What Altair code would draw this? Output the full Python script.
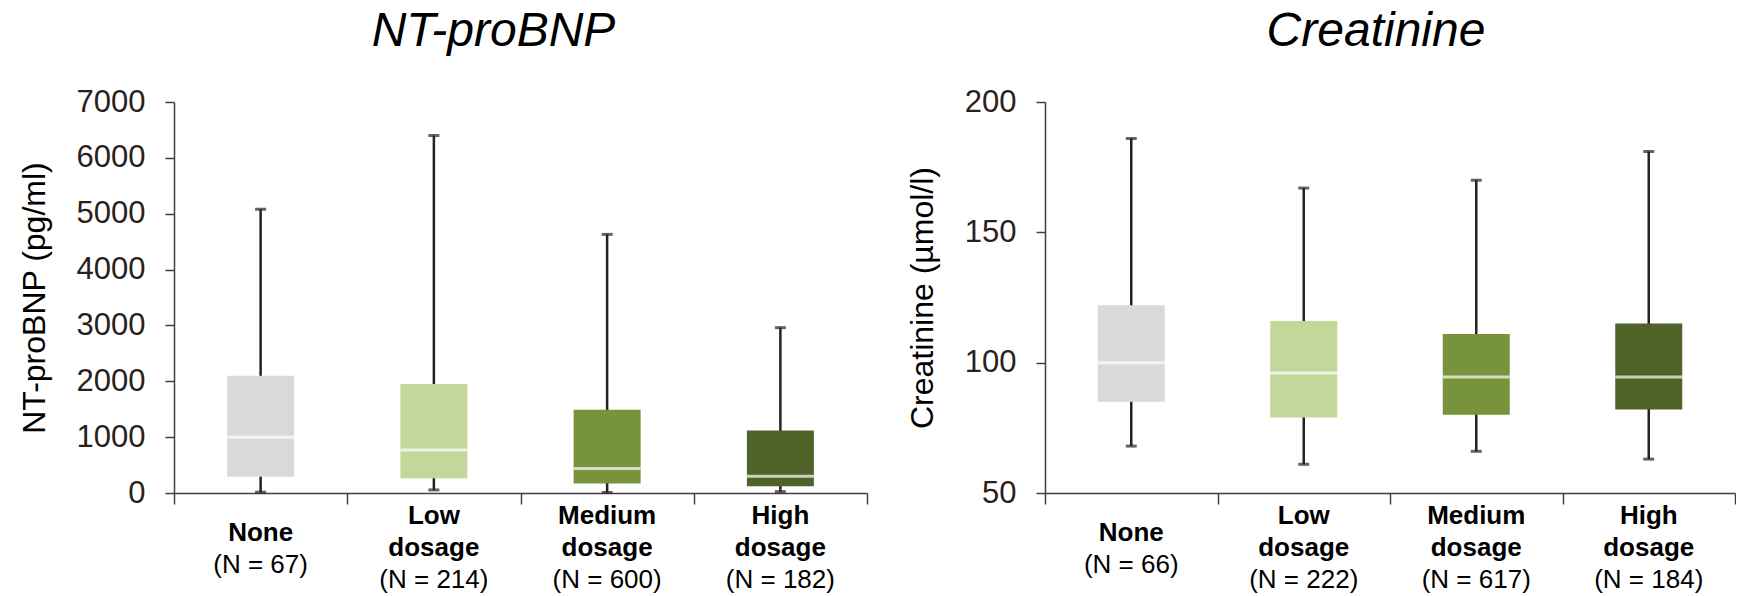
import altair as alt
import pandas as pd

# Treatment groups and their box colours
groups = ["None", "Low dosage", "Medium dosage", "High dosage"]
group_heads = ["None", "Low\ndosage", "Medium\ndosage", "High\ndosage"]
box_colors = ["#d9d9d9", "#c4d79b", "#77933c", "#4f6228"]

# NT-proBNP (pg/ml): whisker ends, quartiles and medians per group
bnp_n = [67, 214, 600, 182]
bnp_min = [15, 55, 10, 25]
bnp_q1 = [290, 265, 170, 120]
bnp_median = [1000, 770, 440, 300]
bnp_q3 = [2100, 1950, 1490, 1120]
bnp_max = [5080, 6400, 4630, 2960]
bnp_ticks = [0, 1000, 2000, 3000, 4000, 5000, 6000, 7000]

# Creatinine (µmol/l)
crea_n = [66, 222, 617, 184]
crea_min = [68, 61, 66, 63]
crea_q1 = [85, 79, 80, 82]
crea_median = [100, 96, 94.5, 94.5]
crea_q3 = [122, 116, 111, 115]
crea_max = [186, 167, 170, 181]
crea_ticks = [50, 100, 150, 200]

FONT = "Liberation Sans"
INK = "#2b211a"
AXIS = "#404040"
HEIGHT = 391


def panel(title, title_dx, y_title, ticks, n, lo, q1, med, q3, hi, width):
    df = pd.DataFrame({
        "group": groups,
        "lo": lo, "q1": q1, "med": med, "q3": q3, "hi": hi,
        "head": group_heads,
        "lines": [h.count("\n") + 1 for h in group_heads],
        "count": [f"(N = {k})" for k in n],
    })

    x = alt.X(
        "group:N", sort=groups,
        scale=alt.Scale(domain=groups, paddingInner=0, paddingOuter=0),
        axis=alt.Axis(title=None, labels=False, tickBand="extent", tickSize=11,
                      tickColor=AXIS, domainColor=AXIS, tickWidth=1.5,
                      domainWidth=1.5, grid=False),
    )
    y_scale = alt.Scale(domain=[ticks[0], ticks[-1]], nice=False, zero=False)
    y_axis = alt.Axis(values=ticks, format="d", tickSize=9, labelPadding=20,
                      labelFont=FONT, labelFontSize=31, labelColor=INK,
                      labelFlush=False, labelOverlap=False,
                      titleFont=FONT, titleFontSize=32, titleFontWeight="normal",
                      titleColor="black", titlePadding=25,
                      domainColor=AXIS, tickColor=AXIS, domainWidth=1.5,
                      tickWidth=1.5, grid=False)

    def y(field):
        return alt.Y(f"{field}:Q", scale=y_scale, axis=y_axis, title=y_title)

    base = alt.Chart(df).encode(x=x)
    whisker = base.mark_rule(color=INK, strokeWidth=2.5).encode(y=y("lo"), y2="hi:Q")
    box = base.mark_bar(size=67).encode(
        y=y("q1"), y2="q3:Q",
        color=alt.Color("group:N", scale=alt.Scale(domain=groups, range=box_colors),
                        legend=None),
    )
    median = base.mark_tick(size=67, thickness=3, color="white").encode(y=y("med"))
    cap_lo = base.mark_tick(size=11, thickness=3, color=INK).encode(y=y("lo"))
    cap_hi = base.mark_tick(size=11, thickness=3, color=INK).encode(y=y("hi"))

    # Category captions under the axis: bold group name, then the group size
    text_style = dict(font=FONT, fontSize=26, color="black", baseline="alphabetic",
                      align="center", lineBreak="\n", lineHeight=32)
    one = base.transform_filter("datum.lines == 1")
    two = base.transform_filter("datum.lines == 2")
    head1 = one.mark_text(fontWeight="bold", **text_style).encode(
        text="head:N", y=alt.value(HEIGHT + 48))
    count1 = one.mark_text(fontWeight="normal", **text_style).encode(
        text="count:N", y=alt.value(HEIGHT + 80))
    head2 = two.mark_text(fontWeight="bold", **text_style).encode(
        text="head:N", y=alt.value(HEIGHT + 31))
    count2 = two.mark_text(fontWeight="normal", **text_style).encode(
        text="count:N", y=alt.value(HEIGHT + 95))

    return alt.layer(whisker, box, median, cap_lo, cap_hi,
                     head1, count1, head2, count2).properties(
        width=width, height=HEIGHT,
        title=alt.TitleParams(text=title, font=FONT, fontSize=48, fontStyle="italic",
                              fontWeight="normal", color="black", anchor="middle",
                              frame="group", baseline="alphabetic", offset=-8,
                              dx=title_dx),
    )


left = panel("NT-proBNP", -27, "NT-proBNP (pg/ml)", bnp_ticks,
             bnp_n, bnp_min, bnp_q1, bnp_median, bnp_q3, bnp_max, 693)
right = panel("Creatinine", -14, "Creatinine (µmol/l)", crea_ticks,
              crea_n, crea_min, crea_q1, crea_median, crea_q3, crea_max, 690)

chart = alt.hconcat(left, right, spacing=38).properties(
    padding={"left": 18, "top": 8, "right": 0, "bottom": 0},
    background="white",
).configure_view(stroke=None)

chart.save("out.html", embed_options={"renderer": "svg", "actions": False})
